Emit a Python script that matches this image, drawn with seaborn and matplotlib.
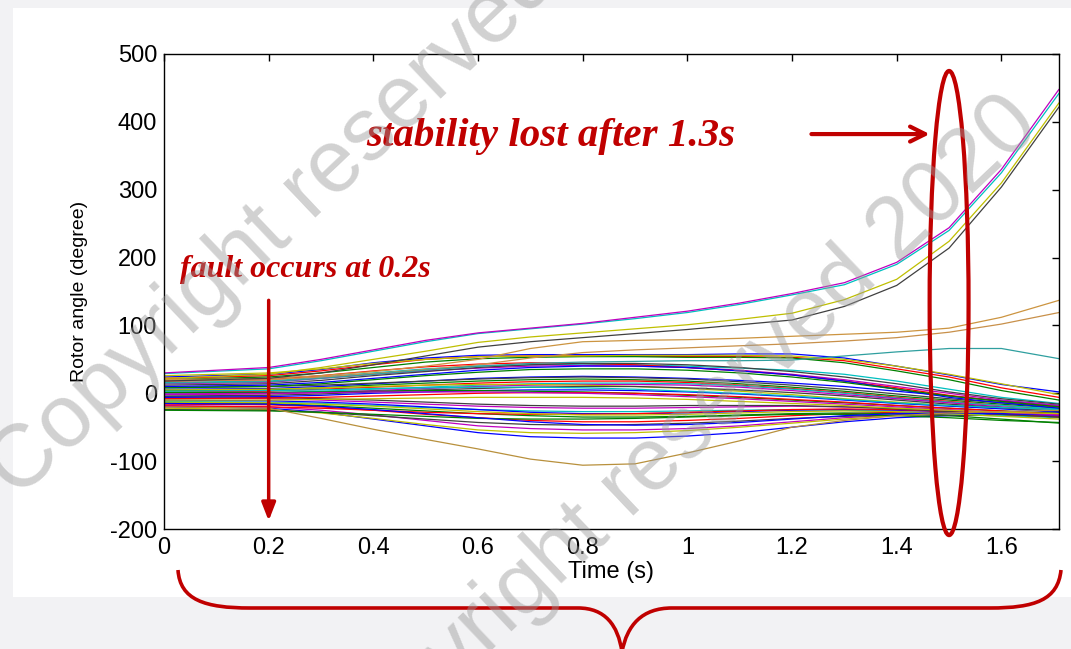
import numpy as np
import pandas as pd
import matplotlib
matplotlib.use("Agg")
import matplotlib.pyplot as plt
import seaborn as sns
from matplotlib.patches import Ellipse, Rectangle, PathPatch
from matplotlib.path import Path

# ---------------- data ----------------
time_s = [0, 0.2, 0.3, 0.4, 0.5, 0.6, 0.7, 0.8, 0.9, 1.0, 1.1, 1.2, 1.3, 1.4, 1.5, 1.6, 1.71]

# generators losing synchronism
unstable_lines = [
    [29, 36, 48, 62, 76, 88, 95, 102, 110, 119, 131, 145, 160, 190, 240, 325, 442],
    [30, 38, 50, 64, 78, 89, 96, 103, 112, 121, 133, 147, 163, 193, 244, 330, 448],
    [22, 28, 38, 50, 62, 75, 83, 89, 95, 101, 109, 118, 138, 168, 224, 310, 428],
    [18, 22, 30, 42, 55, 68, 76, 82, 88, 94, 101, 108, 128, 159, 214, 304, 422],
]
unstable_colors = ["#00bfbf", "#bf00bf", "#bfbf00", "#404040"]

# slowly drifting generators
drift_lines = [
    [20, 22, 26, 32, 40, 50, 66, 76, 78, 79, 81, 84, 87, 90, 96, 112, 137],
    [18, 20, 24, 29, 35, 42, 52, 60, 64, 67, 70, 73, 77, 82, 90, 102, 119],
    [15, 17, 22, 28, 34, 40, 44, 46, 47, 48, 48, 49, 55, 61, 66, 66, 51],
    [-20, -22, -37, -53, -68, -82, -97, -106, -104, -88, -70, -50, -40, -33, -29, -27, -25],
]
drift_colors = ["#cc9440", "#c8904a", "#2f9f9f", "#b8903c"]

# upper part of the coherent band
band_upper = [
    [24, 28, 35, 45, 52, 56, 57, 57, 57, 57, 58, 58, 52, 40, 27, 13, 2],
    [22, 26, 33, 42, 50, 54, 55, 55, 55, 54, 54, 53, 48, 36, 24, 8, -6],
    [20, 24, 30, 38, 46, 51, 53, 54, 54, 53, 53, 52, 45, 33, 20, 4, -10],
    [26, 30, 36, 44, 50, 54, 55, 55, 56, 56, 56, 55, 50, 40, 28, 14, -2],
    [16, 18, 24, 30, 36, 40, 42, 43, 42, 40, 37, 34, 28, 18, 6, -6, -15],
    [14, 16, 22, 28, 33, 37, 40, 41, 40, 38, 34, 28, 20, 10, 0, -10, -18],
    [18, 20, 26, 33, 39, 43, 45, 44, 42, 38, 33, 27, 18, 8, -3, -12, -20],
    [12, 14, 19, 26, 32, 38, 42, 44, 44, 42, 38, 32, 24, 14, 2, -8, -16],
    [10, 12, 16, 22, 28, 34, 38, 40, 40, 38, 33, 27, 18, 6, -6, -14, -22],
    [8, 10, 14, 20, 26, 31, 35, 36, 36, 34, 30, 24, 16, 6, -4, -12, -20],
]
band_upper_colors = ["#0000ff", "#ff0000", "#008000", "#bfbf00", "#00bfbf",
                     "#bf00bf", "#ff0000", "#404040", "#0000ff", "#008000"]

# middle of the band
band_mid = [
    [6, 7, 10, 14, 18, 22, 24, 25, 24, 22, 19, 15, 10, 3, -4, -11, -18],
    [4, 5, 8, 12, 15, 18, 20, 21, 20, 18, 14, 9, 3, -4, -10, -16, -22],
    [2, 3, 6, 9, 12, 15, 17, 18, 18, 16, 12, 7, 1, -6, -12, -18, -24],
    [0, 1, 3, 6, 9, 12, 14, 15, 15, 14, 11, 6, 0, -7, -13, -18, -23],
    [-2, -1, 1, 4, 7, 10, 12, 13, 13, 12, 9, 4, -2, -8, -14, -20, -26],
    [5, 6, 8, 10, 12, 13, 13, 12, 10, 7, 3, -2, -8, -13, -18, -22, -26],
    [-4, -3, -1, 2, 5, 7, 9, 10, 10, 8, 5, 1, -4, -10, -16, -21, -27],
    [-6, -5, -3, 0, 2, 4, 5, 5, 4, 2, -1, -5, -10, -15, -19, -23, -28],
    [1, 1, 2, 3, 4, 4, 3, 2, 0, -3, -6, -10, -14, -18, -22, -26, -30],
    [-8, -7, -6, -4, -2, 0, 1, 1, 0, -2, -5, -9, -13, -18, -22, -26, -31],
    [3, 4, 5, 7, 8, 9, 9, 8, 6, 3, 0, -4, -9, -14, -18, -21, -24],
    [-1, 0, 1, 2, 2, 2, 1, 0, -2, -5, -8, -12, -16, -20, -24, -28, -32],
    [-10, -10, -9, -8, -7, -6, -6, -6, -7, -9, -12, -15, -18, -22, -25, -28, -30],
    [9, 10, 12, 15, 18, 21, 23, 24, 23, 21, 17, 12, 6, -1, -8, -14, -20],
]
band_mid_colors = ["#0000ff", "#008000", "#ff0000", "#00bfbf", "#bf00bf", "#bfbf00", "#404040",
                   "#0000ff", "#008000", "#ff0000", "#00bfbf", "#bf00bf", "#bfbf00", "#404040"]

# lower part of the band
band_low = [
    [-20, -22, -28, -38, -48, -58, -64, -66, -66, -63, -58, -50, -42, -36, -33, -31, -30],
    [-18, -20, -25, -32, -40, -48, -52, -54, -54, -52, -48, -42, -36, -32, -30, -30, -29],
    [-22, -24, -29, -37, -46, -54, -58, -59, -58, -55, -50, -44, -38, -33, -30, -29, -28],
    [-16, -17, -20, -25, -31, -36, -40, -42, -42, -40, -37, -33, -30, -28, -28, -29, -30],
    [-14, -15, -18, -22, -26, -30, -33, -35, -35, -34, -32, -30, -29, -30, -33, -38, -44],
    [-24, -25, -28, -33, -38, -43, -46, -47, -46, -44, -41, -37, -34, -32, -32, -33, -34],
    [-12, -13, -15, -18, -21, -24, -26, -27, -27, -26, -25, -24, -25, -27, -30, -33, -36],
    [-10, -11, -13, -16, -20, -24, -28, -30, -30, -29, -27, -25, -24, -25, -27, -30, -33],
    [-25, -26, -28, -31, -34, -37, -38, -38, -37, -35, -33, -31, -31, -33, -36, -40, -43],
    [-19, -20, -22, -25, -28, -30, -31, -31, -30, -28, -26, -24, -23, -24, -27, -31, -35],
    [-7, -8, -10, -13, -16, -19, -21, -22, -22, -21, -20, -19, -20, -22, -25, -29, -33],
    [-13, -14, -16, -19, -23, -27, -30, -32, -32, -31, -29, -27, -26, -27, -30, -34, -38],
    [-5, -6, -8, -10, -13, -16, -18, -19, -19, -18, -18, -18, -20, -23, -27, -31, -35],
    [-15, -16, -19, -24, -30, -36, -42, -46, -47, -46, -43, -38, -33, -30, -29, -30, -32],
]
band_low_colors = ["#0000ff", "#bf00bf", "#bfbf00", "#ff0000", "#008000", "#404040", "#00bfbf",
                   "#0000ff", "#008000", "#ff0000", "#bf00bf", "#bfbf00", "#404040", "#0000ff"]

x_ticks = [0, 0.2, 0.4, 0.6, 0.8, 1.0, 1.2, 1.4, 1.6]
x_tick_labels = ["0", "0.2", "0.4", "0.6", "0.8", "1", "1.2", "1.4", "1.6"]
y_ticks = [-200, -100, 0, 100, 200, 300, 400, 500]
y_tick_labels = ["-200", "-100", "0", "100", "200", "300", "400", "500"]

# ---------------- long-form table ----------------
rows = []
palette = {}
order = []
groups = [("low", band_low, band_low_colors), ("mid", band_mid, band_mid_colors),
          ("up", band_upper, band_upper_colors), ("drift", drift_lines, drift_colors),
          ("unst", unstable_lines, unstable_colors)]
for gname, lines, cols in groups:
    for i, (vals, c) in enumerate(zip(lines, cols)):
        name = f"{gname}{i}"
        palette[name] = c
        order.append(name)
        for t, v in zip(time_s, vals):
            rows.append((name, t, v))
df = pd.DataFrame(rows, columns=["gen", "time", "angle"])

# ---------------- figure ----------------
sns.set_theme(style="white")
plt.rcParams["font.family"] = ["Liberation Sans", "DejaVu Sans"]
plt.rcParams["axes.unicode_minus"] = False

W, H = 1071, 649
fig = plt.figure(figsize=(W / 100, H / 100), dpi=100)
fig.patch.set_facecolor("#f2f2f4")
fig.add_artist(Rectangle((13 / W, (H - 597) / H), (W - 13) / W, (597 - 8) / H,
                         transform=fig.transFigure, facecolor="white", edgecolor="none", zorder=-5))

ax_l, ax_r, ax_t, ax_b = 164, 1059, 54, 529
ax = fig.add_axes([ax_l / W, (H - ax_b) / H, (ax_r - ax_l) / W, (ax_b - ax_t) / H])
ax.set_facecolor("white")

sns.lineplot(data=df, x="time", y="angle", hue="gen", hue_order=order, palette=palette,
             estimator=None, sort=False, legend=False, lw=0.9, ax=ax)

ax.set_xlim(0, 1.71)
ax.set_ylim(-200, 500)
ax.set_xticks(x_ticks)
ax.set_xticklabels(x_tick_labels)
ax.set_yticks(y_ticks)
ax.set_yticklabels(y_tick_labels)
ax.tick_params(direction="in", top=True, right=True, length=5, width=1,
               labelsize=17, colors="black")
ax.tick_params(axis="x", pad=6)
ax.tick_params(axis="y", pad=5)
for s in ax.spines.values():
    s.set_visible(True)
    s.set_color("black")
    s.set_linewidth(1.0)
ax.set_xlabel("Time (s)", fontsize=17, labelpad=1, color="black")
ax.set_ylabel("Rotor angle (degree)", fontsize=14, labelpad=16, color="black")

red = "#c00000"
ax.text(0.387, 364, "stability lost after 1.3s", color=red, fontsize=29.5, fontweight="bold",
        fontstyle="italic", family="Liberation Serif", ha="left", va="baseline", zorder=5)
ax.text(0.03, 171, "fault occurs at 0.2s", color=red, fontsize=23, fontweight="bold",
        fontstyle="italic", family="Liberation Serif", ha="left", va="baseline", zorder=5)
ax.annotate("", xy=(1.463, 382), xytext=(1.237, 382),
            arrowprops=dict(arrowstyle="->,head_length=0.9,head_width=0.45", color=red, lw=3,
                            shrinkA=0, shrinkB=0), annotation_clip=False, zorder=5)
ax.annotate("", xy=(0.2, -188), xytext=(0.2, 137),
            arrowprops=dict(arrowstyle="-|>,head_length=0.9,head_width=0.35", color=red, lw=2.5,
                            shrinkA=0, shrinkB=0), annotation_clip=False, zorder=5)
ax.add_patch(Ellipse((1.5, 133), 0.0744, 684, fill=False, ec=red, lw=3, clip_on=False, zorder=6))

# ---------------- overlay: brace and watermark ----------------
ov = fig.add_axes([0, 0, 1, 1], zorder=10)
ov.set_xlim(0, W)
ov.set_ylim(H, 0)
ov.axis("off")
verts = [(178, 570), (180, 600), (205, 608), (250, 608),
         (578, 608),
         (605, 608), (618, 625), (622, 652),
         (627, 625), (642, 608), (672, 608),
         (990, 608),
         (1035, 608), (1058, 600), (1061, 570)]
codes = [Path.MOVETO, Path.CURVE4, Path.CURVE4, Path.CURVE4,
         Path.LINETO,
         Path.CURVE4, Path.CURVE4, Path.CURVE4,
         Path.CURVE4, Path.CURVE4, Path.CURVE4,
         Path.LINETO,
         Path.CURVE4, Path.CURVE4, Path.CURVE4]
ov.add_patch(PathPatch(Path(verts, codes), fill=False, ec=red, lw=2.6, clip_on=False))

wm = "Copyright reserved 2020"
ov.text(18, 500, wm, rotation=43.5, rotation_mode="anchor", ha="left", va="baseline",
        fontsize=64, color="#9a9a9a", alpha=0.45, family="Liberation Sans")
ov.text(1042, 128, wm, rotation=43.5, rotation_mode="anchor", ha="right", va="baseline",
        fontsize=64, color="#9a9a9a", alpha=0.45, family="Liberation Sans")

fig.savefig("out.png", dpi=100, facecolor=fig.get_facecolor())
